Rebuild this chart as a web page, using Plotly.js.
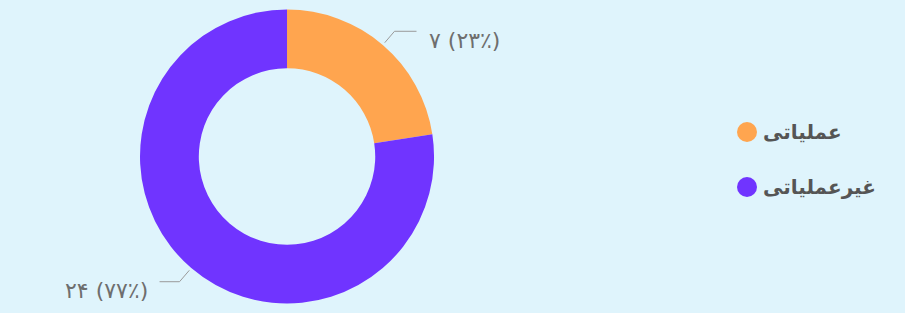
<!DOCTYPE html>
<html>
<head>
<meta charset="utf-8">
<script src="https://cdn.plot.ly/plotly-3.0.1.min.js"></script>
<style>
html,body{margin:0;padding:0;background:#DFF4FC;}
#chart{width:905px;height:313px;}
</style>
</head>
<body>
<div id="chart"></div>
<script>
// ---- data ----
const categories = ['عملیاتی', 'غیرعملیاتی'];
const values = [7, 24];
const colors = ['#FFA54F', '#7034FF'];

// ---- helpers ----
const W = 905, H = 313;
const BG = '#DFF4FC';
const faDigits = '۰۱۲۳۴۵۶۷۸۹';
function toFa(n){ return String(n).replace(/[0-9]/g, d => faDigits[+d]); }

const domX = [0.1547, 0.4796];
const domY = [0.03, 0.97];
const cx = (domX[0] + domX[1]) / 2 * W;
const cy = (1 - (domY[0] + domY[1]) / 2) * H;
const R = Math.min((domX[1]-domX[0])*W, (domY[1]-domY[0])*H) / 2;

const total = values.reduce((a,b)=>a+b,0);
const shapes = [];
const annotations = [];
const px = x => x / W;
const py = y => 1 - y / H;

let cum = 0;
values.forEach((v, i) => {
  const mid = (cum + v/2) / total * 2 * Math.PI; // clockwise from top
  cum += v;
  const sx = Math.sin(mid), sy = -Math.cos(mid);
  const x1 = cx + (R+3)*sx, y1 = cy + (R+3)*sy;
  const x2 = cx + (R+18)*sx, y2 = cy + (R+18)*sy;
  const right = sx >= 0;
  const x3 = x2 + (right ? 22 : -20);
  shapes.push({type:'path', xref:'paper', yref:'paper',
    path:`M${px(x1)},${py(y1)} L${px(x2)},${py(y2)} L${px(x3)},${py(y2)}`,
    line:{color:'#9a9a9a', width:1}});
  const pct = Math.round(v/total*100);
  annotations.push({xref:'paper', yref:'paper', x:px(x3 + (right?10:-10)), y:py(y2+9),
    xanchor: right ? 'left' : 'right', yanchor:'middle', showarrow:false,
    text: `${toFa(v)} (${toFa(pct)}٪)`,
    font:{family:'DejaVu Sans', size:22, color:'#6e6e6e'}});
});

// legend (drawn as layout decorations)
categories.forEach((c, i) => {
  const lx = 747, ly = 132 + i*55;
  shapes.push({type:'circle', xref:'paper', yref:'paper',
    x0:px(lx-10), x1:px(lx+10), y0:py(ly+10), y1:py(ly-10),
    fillcolor:colors[i], line:{width:0}});
  annotations.push({xref:'paper', yref:'paper', x:px(lx+14), y:py(ly),
    xanchor:'left', yanchor:'middle', showarrow:false, text:'<b>'+c+'</b>',
    font:{family:'DejaVu Sans', size:20, color:'#555555'}});
});

const data = [{
  type:'pie', labels:categories, values:values, sort:false,
  direction:'clockwise', rotation:0, hole:0.6,
  marker:{colors:colors, line:{width:0}},
  textinfo:'none', domain:{x:domX, y:domY}, showlegend:false
}];

const layout = {
  width:W, height:H, margin:{l:0,r:0,t:0,b:0},
  paper_bgcolor:BG, plot_bgcolor:BG, showlegend:false,
  shapes:shapes, annotations:annotations
};
Plotly.newPlot('chart', data, layout, {displayModeBar:false, staticPlot:true});
</script>
</body>
</html>
